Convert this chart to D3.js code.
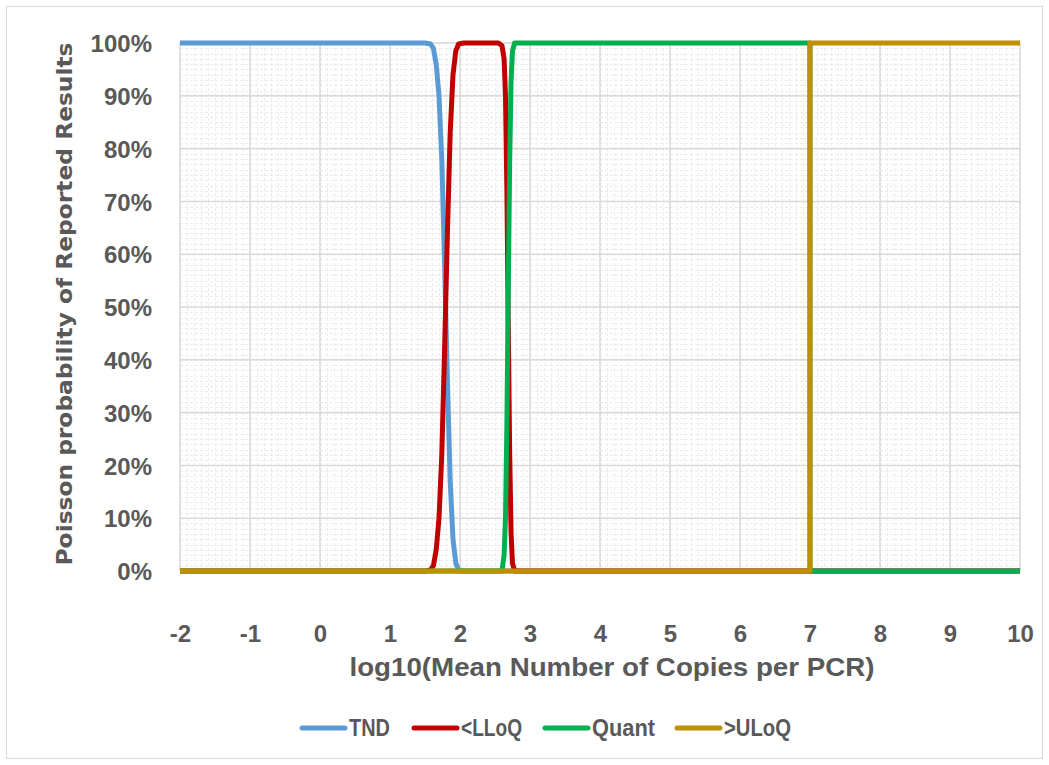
<!DOCTYPE html>
<html><head><meta charset="utf-8">
<script src="https://cdn.jsdelivr.net/npm/d3@7"></script>
<style>body{margin:0;background:#fff}svg{display:block}</style>
</head><body>
<svg id="chart" width="1049" height="765"></svg>
<script>
// ---- data ----
const xTicks = [-2,-1,0,1,2,3,4,5,6,7,8,9,10];
const yTicks = [0,0.1,0.2,0.3,0.4,0.5,0.6,0.7,0.8,0.9,1.0];
const seriesNames = ["TND","<LLoQ","Quant",">ULoQ"];
const seriesColors = ["#5b9bd5","#c00000","#00b050","#bf9000"];

const tndX = [-2, 1.5, 1.58, 1.62, 1.66, 1.70, 1.74, 1.78, 1.82, 1.86, 1.90, 1.94, 1.98, 2.05, 10];
const tndY = [1, 1, 0.998, 0.99, 0.96, 0.90, 0.78, 0.58, 0.36, 0.17, 0.06, 0.015, 0.002, 0, 0];

const llqX = [-2, 1.5, 1.58, 1.62, 1.66, 1.70, 1.74, 1.78, 1.82, 1.86, 1.90, 1.94, 1.98, 2.05, 2.55, 2.60, 2.63, 2.65, 2.67, 2.69, 2.71, 2.73, 2.75, 2.78, 10];
const llqY = [0, 0, 0.002, 0.01, 0.04, 0.10, 0.22, 0.42, 0.64, 0.83, 0.94, 0.985, 0.998, 1, 1, 0.995, 0.97, 0.90, 0.72, 0.46, 0.22, 0.07, 0.015, 0, 0];

const quantX = [-2, 2.60, 2.63, 2.65, 2.67, 2.69, 2.71, 2.73, 2.75, 2.78, 6.999, 7.0, 10];
const quantY = [0, 0, 0.03, 0.10, 0.28, 0.54, 0.78, 0.93, 0.985, 1, 1, 0, 0];

const ulqX = [-2, 7.0, 7.0, 10];
const ulqY = [0, 0, 1, 1];

const seriesX = [tndX, llqX, quantX, ulqX];
const seriesY = [tndY, llqY, quantY, ulqY];

// ---- layout ----
const svg = d3.select("#chart");
const W = 1049, H = 765;
const pL = 180, pR = 1020, pT = 43, pB = 571;
const x = d3.scaleLinear().domain([-2,10]).range([pL,pR]);
const y = d3.scaleLinear().domain([0,1]).range([pB,pT]);
const textColor = "#595959";
const font = "'Liberation Sans',Arial,sans-serif";

svg.append("rect").attr("x",6.5).attr("y",6.5).attr("width",W-13).attr("height",H-13)
  .attr("fill","#fff").attr("stroke","#d9d9d9").attr("stroke-width",1);

// minor grid
const g = svg.append("g");
const minorX = d3.range(-2,10.0001,0.1).map(v=>+v.toFixed(2));
const minorY = d3.range(0,1.0001,0.01).map(v=>+v.toFixed(3));
g.selectAll(".mx").data(minorX).join("line")
  .attr("x1",d=>Math.round(x(d))+0.5).attr("x2",d=>Math.round(x(d))+0.5)
  .attr("y1",pT).attr("y2",pB)
  .attr("stroke","#ececec").attr("stroke-width",1).attr("stroke-dasharray","3,2");
g.selectAll(".my").data(minorY).join("line")
  .attr("y1",d=>Math.round(y(d))+0.5).attr("y2",d=>Math.round(y(d))+0.5)
  .attr("x1",pL).attr("x2",pR)
  .attr("stroke","#ececec").attr("stroke-width",1).attr("stroke-dasharray","3,2");
// major grid
g.selectAll(".Mx").data(xTicks).join("line")
  .attr("x1",d=>x(d)).attr("x2",d=>x(d)).attr("y1",pT).attr("y2",pB)
  .attr("stroke","#d9d9d9").attr("stroke-width",1.5);
g.selectAll(".My").data(yTicks).join("line")
  .attr("y1",d=>y(d)).attr("y2",d=>y(d)).attr("x1",pL).attr("x2",pR)
  .attr("stroke","#d9d9d9").attr("stroke-width",1.5);

// axes (labels only)
const xAxis = d3.axisBottom(x).tickValues(xTicks).tickSize(0).tickPadding(0).tickFormat(d => String(d));
const gx = svg.append("g").attr("transform",`translate(0,${pB})`).call(xAxis);
gx.select(".domain").remove();
gx.selectAll("text").attr("dy",null).attr("y",71)
  .attr("fill",textColor).style("font-family",font).style("font-size","24px").style("font-weight","bold");

const yAxis = d3.axisLeft(y).tickValues(yTicks).tickSize(0).tickPadding(0).tickFormat(d3.format(".0%"));
const gy = svg.append("g").attr("transform",`translate(152,0)`).call(yAxis);
gy.select(".domain").remove();
gy.selectAll("text").attr("dy","0.36em").attr("x",0)
  .attr("fill",textColor).style("font-family",font).style("font-size","24px").style("font-weight","bold");

// titles
svg.append("text").attr("x",612).attr("y",676).attr("text-anchor","middle")
  .attr("textLength",525).attr("lengthAdjust","spacingAndGlyphs")
  .attr("fill",textColor).style("font-family",font).style("font-size","25px").style("font-weight","bold")
  .text("log10(Mean Number of Copies per PCR)");
svg.append("text").attr("transform",`translate(72,304) rotate(-90)`).attr("text-anchor","middle")
  .attr("textLength",523).attr("lengthAdjust","spacingAndGlyphs")
  .attr("fill",textColor).style("font-family","'DejaVu Sans',sans-serif").style("font-size","22px").style("font-weight","bold")
  .text("Poisson probability of Reported Results");

// lines
const line = d3.line().x(d=>x(d[0])).y(d=>y(d[1]));
seriesNames.forEach((name,i)=>{
  const pts = seriesX[i].map((v,j)=>[v, seriesY[i][j]]);
  svg.append("path").datum(pts).attr("d",line).attr("fill","none")
    .attr("stroke",seriesColors[i]).attr("stroke-width",5)
    .attr("stroke-linejoin","round").attr("stroke-linecap","butt");
});

// legend
const legX = [302, 414, 545, 677];
const legW = [41, 61, 63, 67];
const leg = svg.append("g");
seriesNames.forEach((name,i)=>{
  leg.append("line").attr("x1",legX[i]).attr("x2",legX[i]+43).attr("y1",728).attr("y2",728)
    .attr("stroke",seriesColors[i]).attr("stroke-width",5).attr("stroke-linecap","round");
  leg.append("text").attr("x",legX[i]+47).attr("y",728).attr("dy","0.36em")
    .attr("textLength",legW[i]).attr("lengthAdjust","spacingAndGlyphs")
    .attr("fill",textColor).style("font-family",font).style("font-size","23px").style("font-weight","bold")
    .text(name);
});
</script>
</body></html>
